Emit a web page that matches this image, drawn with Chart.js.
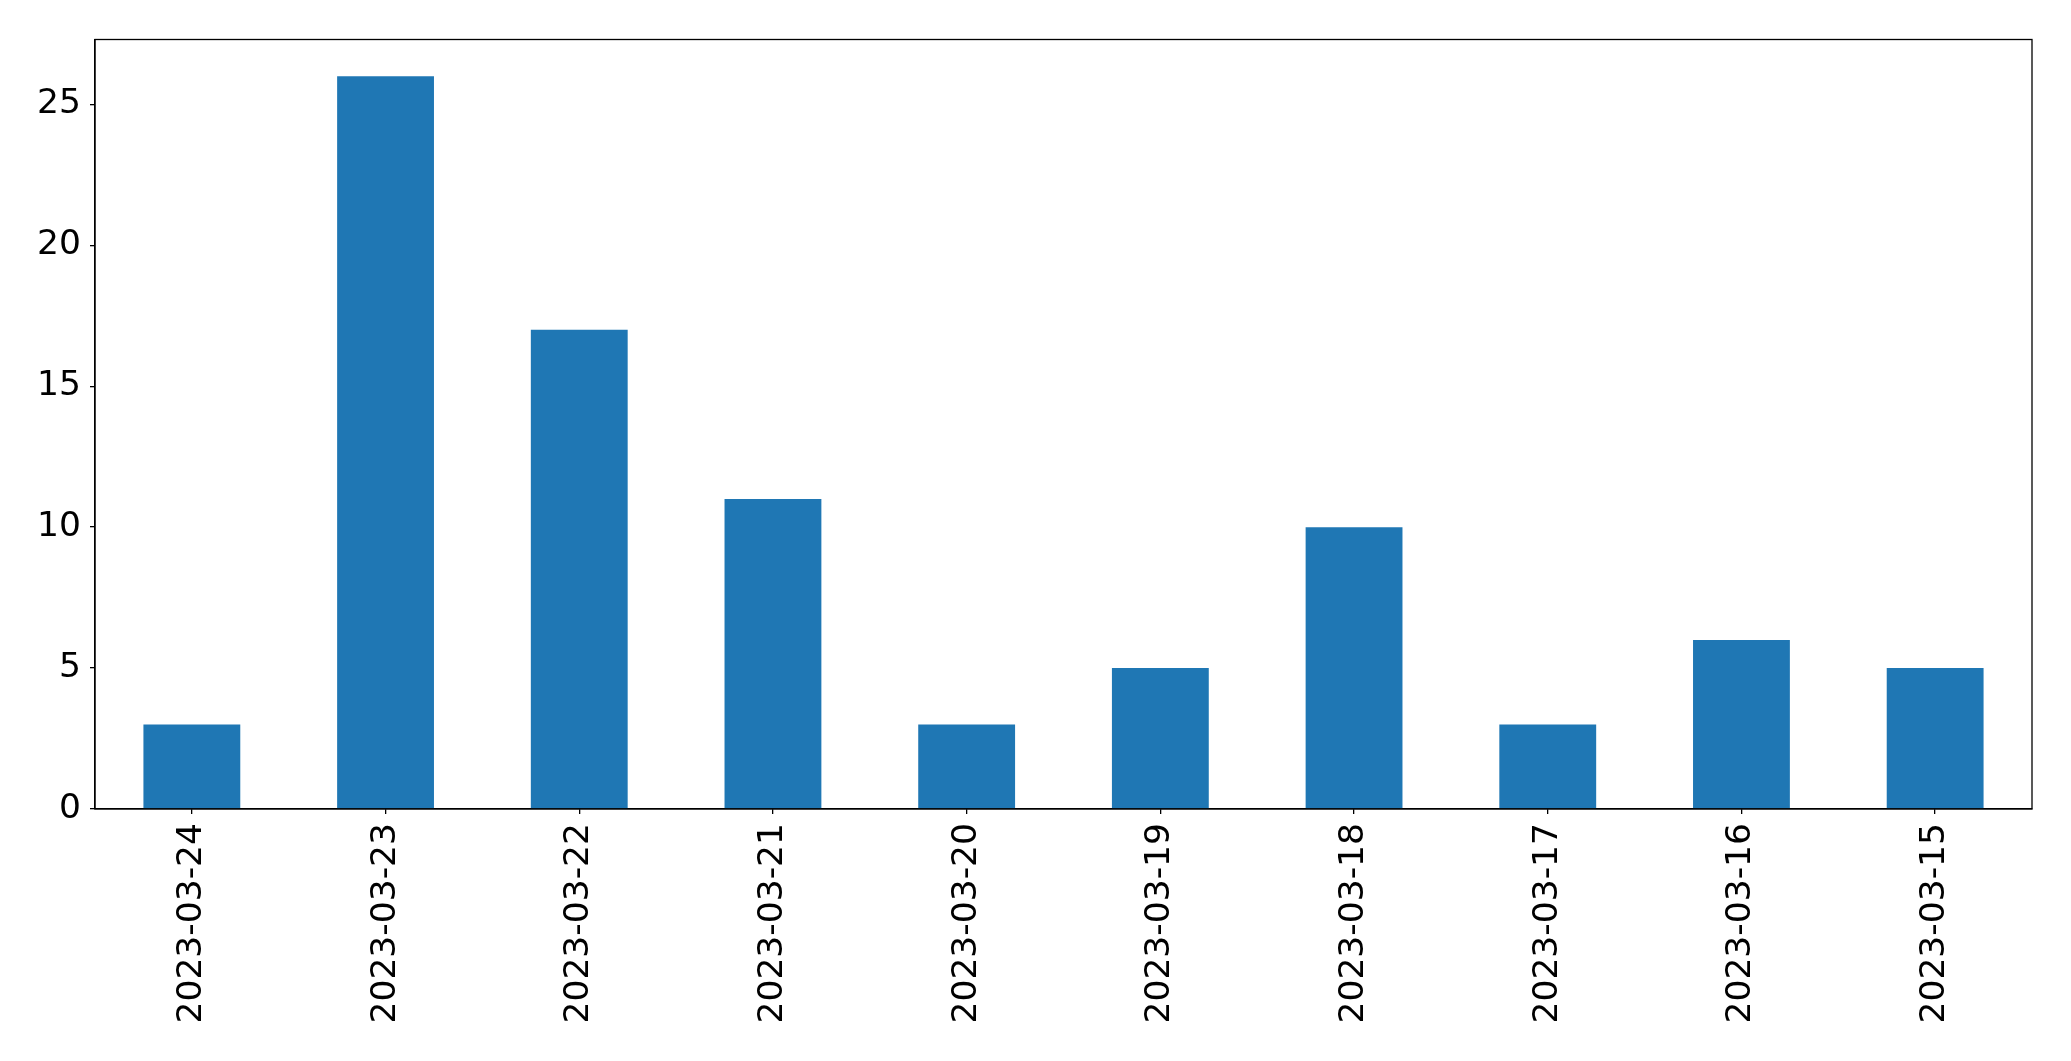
<!DOCTYPE html>
<html>
<head>
<meta charset="utf-8">
<script src="https://cdn.jsdelivr.net/npm/chart.js@4/dist/chart.umd.min.js"></script>
<style>
  body { margin: 0; background: #fff; }
  #wrap { width: 2071px; height: 1061px; }
</style>
</head>
<body>
<div id="wrap"><canvas id="barChart" width="2071" height="1061"></canvas></div>
<script>
// data
const dates = ['2023-03-24', '2023-03-23', '2023-03-22', '2023-03-21', '2023-03-20',
               '2023-03-19', '2023-03-18', '2023-03-17', '2023-03-16', '2023-03-15']
const counts = [3, 26, 17, 11, 3, 5, 10, 3, 6, 5]
const yTicks = [0, 5, 10, 15, 20, 25]

const tickFont = { family: 'DejaVu Sans', size: 34.5 }

// draws the top and right edges of the frame
const frameBox = {
  id: 'frameBox',
  afterDraw(chart) {
    const a = chart.chartArea
    const ctx = chart.ctx
    ctx.save()
    ctx.strokeStyle = '#000'
    ctx.lineWidth = 1.3
    ctx.strokeRect(a.left, a.top, a.right - a.left, a.bottom - a.top)
    ctx.restore()
  }
}

const config = {
  type: 'bar',
  data: {
    labels: dates,
    datasets: [{
      data: counts,
      backgroundColor: '#1f77b4',
      borderWidth: 0,
      barPercentage: 0.5,
      categoryPercentage: 1.0
    }]
  },
  options: {
    responsive: false,
    animation: false,
    layout: { padding: { top: 39.5, right: 39, left: 0, bottom: 0 } },
    plugins: { legend: { display: false }, tooltip: { enabled: false } },
    scales: {
      x: {
        offset: true,
        grid: { offset: false, drawOnChartArea: false, drawTicks: true, tickLength: 5, color: '#000', lineWidth: 1.3 },
        border: { color: '#000', width: 1.3 },
        ticks: { color: '#000', font: tickFont, minRotation: 90, maxRotation: 90, padding: 9, autoSkip: false },
        afterFit(axis) { axis.height = 252 }
      },
      y: {
        min: 0,
        max: 27.3,
        grid: { drawOnChartArea: false, drawTicks: true, tickLength: 5, color: '#000', lineWidth: 1.3 },
        border: { color: '#000', width: 1.3 },
        ticks: { color: '#000', font: tickFont, padding: 9, stepSize: 5 },
        afterBuildTicks(axis) { axis.ticks = yTicks.map(v => ({ value: v })) },
        afterFit(axis) { axis.width = 95 }
      }
    }
  },
  plugins: [frameBox]
}

const countChart = new Chart(document.getElementById('barChart'), config)
</script>
</body>
</html>
